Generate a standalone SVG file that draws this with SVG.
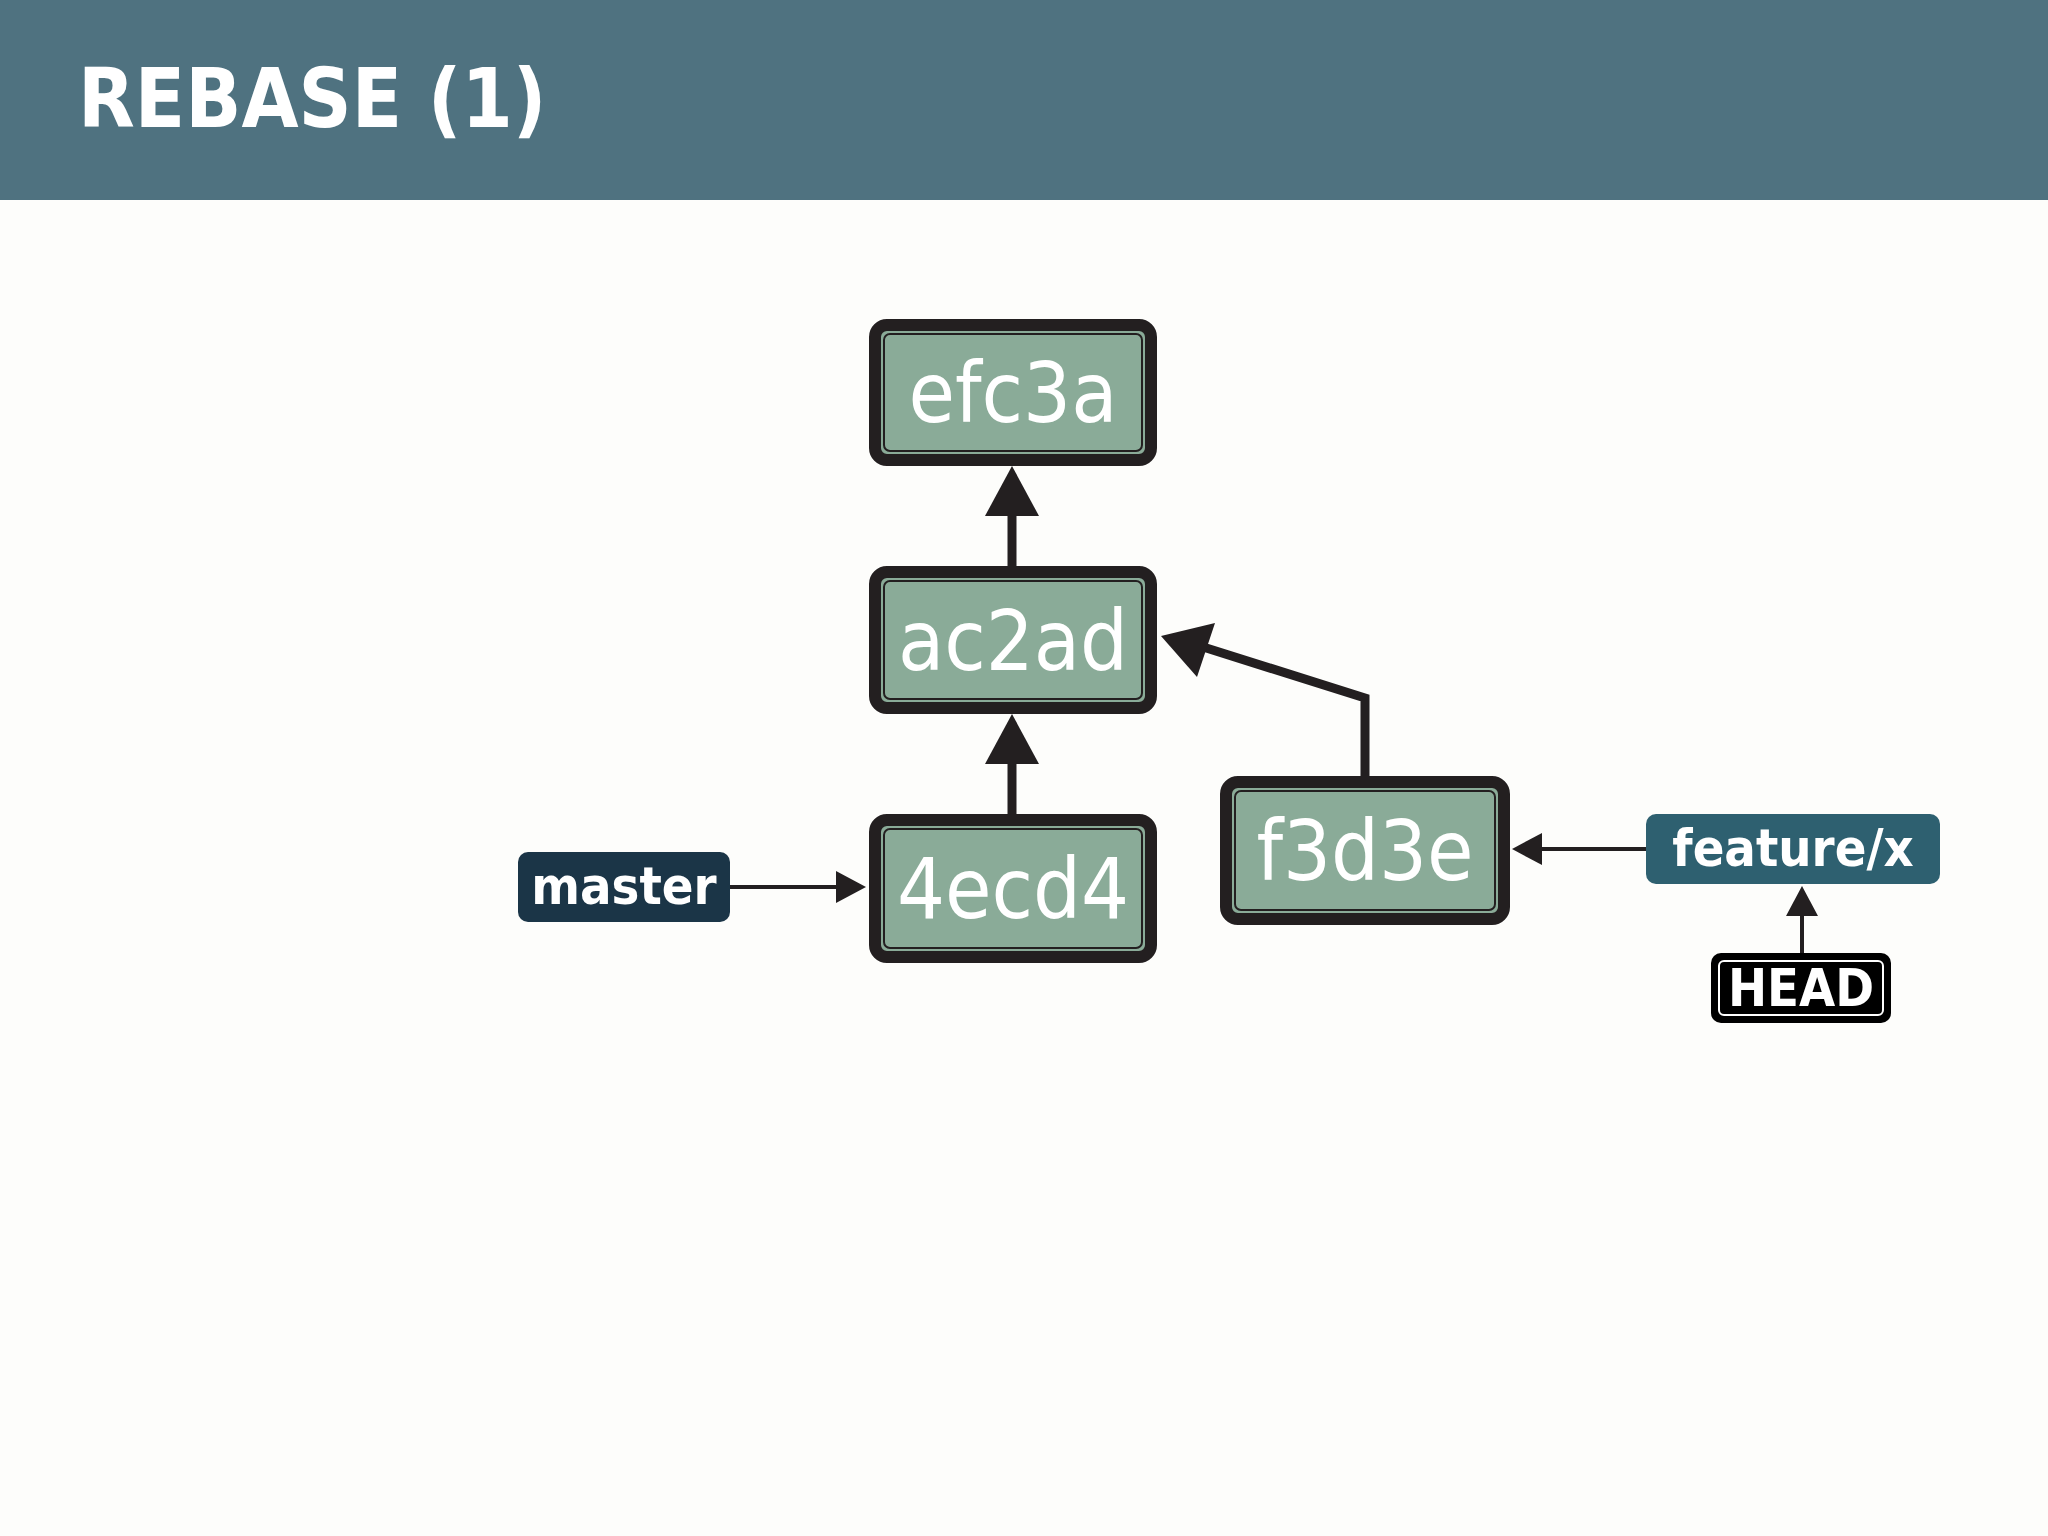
<svg xmlns="http://www.w3.org/2000/svg" width="2048" height="1536" viewBox="0 0 2048 1536">
<style>
.box{fill:#8aab98;stroke:#231f20;stroke-width:12}
.inner{fill:none;stroke:#231f20;stroke-width:2}
.ct{font-family:"DejaVu Sans Condensed","DejaVu Sans",sans-serif;font-stretch:condensed;font-size:84px;fill:#fff;text-anchor:middle}
.lt{font-family:"DejaVu Sans Condensed","DejaVu Sans",sans-serif;font-stretch:condensed;font-weight:bold;font-size:52px;fill:#fff;text-anchor:middle}
.th{stroke:#231f20;stroke-width:9;fill:none}
.tn{stroke:#231f20;stroke-width:4;fill:none}
.ah{fill:#231f20}
</style>
<rect width="2048" height="1536" fill="#fdfdfb"/>
<rect width="2048" height="200" fill="#4f7280"/>
<text x="78" y="127" font-family="DejaVu Sans Condensed, DejaVu Sans, sans-serif" font-stretch="condensed" font-weight="bold" font-size="82" fill="#fff">REBASE (1)</text>
<g id="connectors">
<line class="th" x1="1012" y1="566" x2="1012" y2="510"/>
<polygon class="ah" points="1012,466 985,516 1039,516"/>
<line class="th" x1="1012" y1="814" x2="1012" y2="758"/>
<polygon class="ah" points="1012,714 985,764 1039,764"/>
<polyline class="th" points="1365,776 1365,698 1200,646"/>
<polygon class="ah" points="1161,636 1215,623 1197,677"/>
<line class="tn" x1="730" y1="887" x2="840" y2="887"/>
<polygon class="ah" points="866,887 836,871 836,903"/>
<line class="tn" x1="1646" y1="849" x2="1538" y2="849"/>
<polygon class="ah" points="1512,849 1542,833 1542,865"/>
<line class="tn" x1="1802" y1="953" x2="1802" y2="912"/>
<polygon class="ah" points="1802,886 1786,916 1818,916"/>
</g>
<g id="efc3a"><rect class="box" x="875" y="325" width="276" height="135" rx="12"/><rect class="inner" x="884" y="334" width="258" height="117" rx="6"/><text class="ct" x="1013" y="422">efc3a</text></g>
<g id="ac2ad"><rect class="box" x="875" y="572" width="276" height="136" rx="12"/><rect class="inner" x="884" y="581" width="258" height="118" rx="6"/><text class="ct" x="1013" y="670">ac2ad</text></g>
<g id="4ecd4"><rect class="box" x="875" y="820" width="276" height="137" rx="12"/><rect class="inner" x="884" y="829" width="258" height="119" rx="6"/><text class="ct" x="1013" y="918">4ecd4</text></g>
<g id="f3d3e"><rect class="box" x="1226" y="782" width="278" height="137" rx="12"/><rect class="inner" x="1235" y="791" width="260" height="119" rx="6"/><text class="ct" x="1365" y="880">f3d3e</text></g>
<g id="master"><rect x="518" y="852" width="212" height="70" rx="10" fill="#1b3547"/><text class="lt" x="624" y="904">master</text></g>
<g id="feature-x"><rect x="1646" y="814" width="294" height="70" rx="10" fill="#2e6070"/><text class="lt" x="1793" y="866">feature/x</text></g>
<g id="HEAD"><rect x="1711" y="953" width="180" height="70" rx="10" fill="#000"/><rect x="1719" y="961" width="164" height="54" rx="5" fill="none" stroke="#fff" stroke-width="2"/><text class="lt" x="1801" y="1006">HEAD</text></g>
</svg>
